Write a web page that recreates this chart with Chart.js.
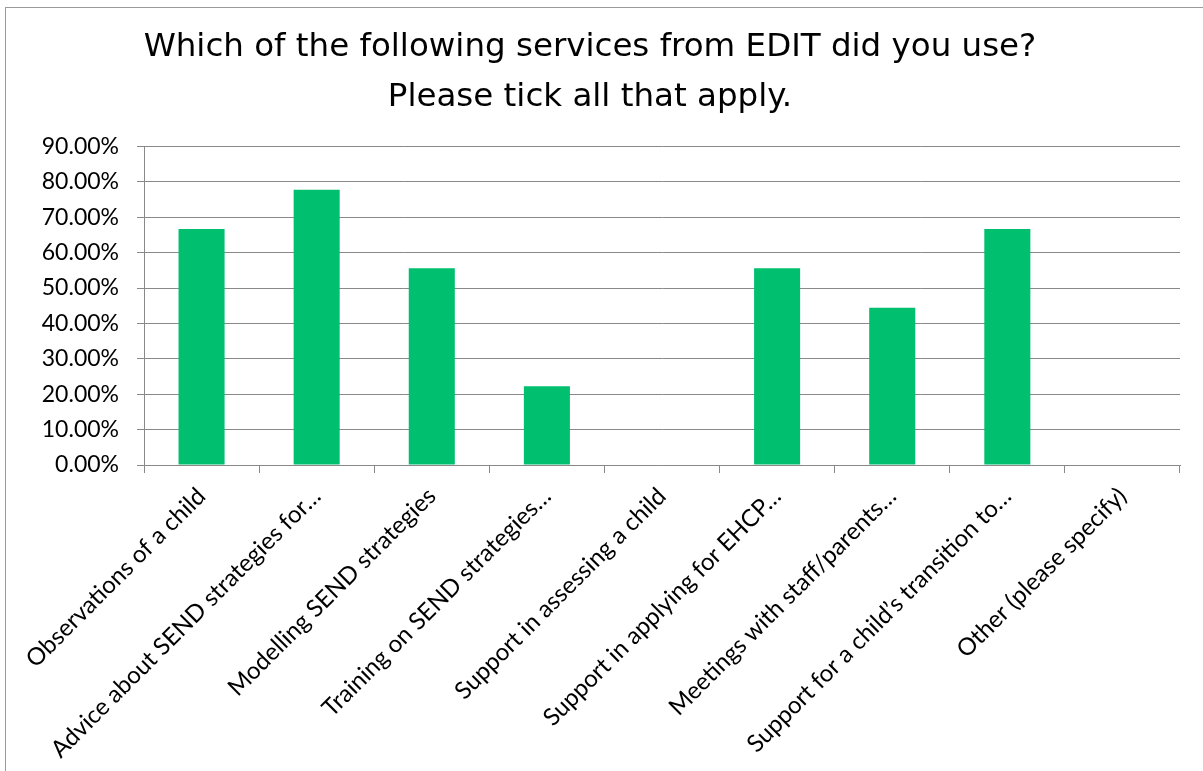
<!DOCTYPE html>
<html>
<head>
<meta charset="utf-8">
<script src="https://cdn.jsdelivr.net/npm/chart.js@4"></script>
<style>
  body { margin: 0; background: #fff; }
  #frame { position: absolute; left: 5px; top: 7px; width: 1198px; height: 764px;
           border-left: 1px solid #9a9a9a; border-top: 1px solid #9a9a9a; }
  #wrap { position: absolute; left: 0; top: 0; width: 1203px; height: 771px; }
</style>
</head>
<body>
<div id="frame"></div>
<div id="wrap"><canvas id="myChart" width="1203" height="771"></canvas></div>
<script>
// survey answers, percent of respondents
const services = [
  'Observations of a child',
  'Advice about SEND strategies for\u2026',
  'Modelling SEND strategies',
  'Training on SEND strategies\u2026',
  'Support in assessing a child',
  'Support in applying for EHCP\u2026',
  'Meetings with staff/parents\u2026',
  'Support for a child\u2019s transition to\u2026',
  'Other (please specify)'
];
const percentUsed = [66.67, 77.78, 55.56, 22.22, 0, 55.56, 44.44, 66.67, 0];
const titleLines = ['Which of the following services from EDIT did you use?', 'Please tick all that apply.'];

const gridGrey = '#898989';

const data = {
  labels: services,
  datasets: [{
    label: 'Responses',
    data: percentUsed,
    backgroundColor: '#00bf6f',
    borderWidth: 0,
    barPercentage: 0.8,
    categoryPercentage: 0.5
  }]
};

const config = {
  type: 'bar',
  data: data,
  options: {
    responsive: false,
    animation: false,
    layout: { padding: { top: 22, right: 23, left: 0, bottom: 0 } },
    plugins: {
      legend: { display: false },
      tooltip: { enabled: false },
      title: {
        display: true,
        text: titleLines,
        color: '#000',
        font: { family: 'DejaVu Sans', size: 32.5, weight: 'normal', lineHeight: 1.56 },
        padding: { top: 0, bottom: 23 }
      }
    },
    scales: {
      x: {
        grid: { offset: true, drawOnChartArea: false, drawTicks: true, tickLength: 8, color: gridGrey },
        border: { color: gridGrey },
        ticks: {
          autoSkip: false, maxRotation: 45, minRotation: 45, padding: 9,
          color: '#000', font: { family: 'Lato', size: 24 }
        },
        afterFit: function(scale) { scale.height = 306; }
      },
      y: {
        min: 0, max: 90,
        grid: { color: gridGrey, tickLength: 7 },
        border: { color: gridGrey },
        ticks: {
          stepSize: 10, padding: 18, color: '#000',
          font: { family: 'Lato', size: 23 },
          callback: function(v) { return v.toFixed(2) + '%'; }
        },
        afterFit: function(scale) { scale.width = 144; }
      }
    }
  }
};

//draw it
const myChart = new Chart(document.getElementById('myChart'), config);
</script>
</body>
</html>
